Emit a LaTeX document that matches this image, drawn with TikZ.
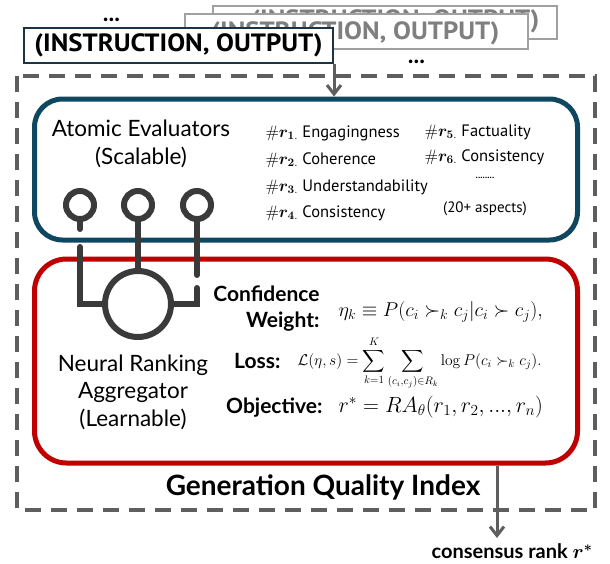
\RequirePackage{fix-cm}
\documentclass[tikz,border=0pt]{standalone}
\usepackage{amsmath,amssymb,bm}
\usepackage[no-math]{fontspec}
\setmainfont{Lato}
\newfontfamily\dinfont{PT Sans}
\newfontfamily\dinwide[FakeStretch=1.07]{PT Sans}
\usetikzlibrary{arrows.meta}
\definecolor{evalblue}{HTML}{0F4761}
\definecolor{aggred}{HTML}{C00000}
\definecolor{dashgray}{HTML}{5E5E5E}
\definecolor{wiregray}{HTML}{3A3A3A}
\definecolor{ghost}{HTML}{A0A0A0}
\definecolor{ghosttext}{HTML}{7F7F7F}
\definecolor{frontbd}{HTML}{1B3342}
\tikzset{
  pairfont/.style={font=\dinwide\bfseries\fontsize{25}{28}\selectfont},
  pairbox/.style={draw, fill=white, line width=2, inner sep=0, minimum height=35, pairfont},
  ghostbox/.style={pairbox, draw=ghost, text=ghosttext},
  dots/.style={font=\bfseries\fontsize{24}{24}\selectfont, anchor=base},
  wire/.style={line width=6, draw=wiregray, line cap=round},
  knob/.style={circle, draw=wiregray, line width=6, minimum size=28, inner sep=0},
  arr/.style={line width=3, draw=dashgray, -{Straight Barb[length=9,width=14,line width=3]}},
  title/.style={font=\fontsize{22.5}{28}\selectfont, align=center},
  item/.style={font=\dinfont\fontsize{16.5}{18}\selectfont, anchor=west},
  lbl/.style={font=\bfseries\fontsize{21}{24}\selectfont},
}
\newcommand{\rr}[1]{$\#\bm{r}_{\bm{#1}.}$}
\begin{document}
\begin{tikzpicture}[x=1pt,y=-1pt]
\useasboundingbox[fill=white] (0,0) rectangle (610,563);

% stacked input pairs
\node[ghostbox, minimum width=344, minimum height=33] (back) at (385,22.5) {};
\node[pairfont, text=ghosttext, anchor=east] (backtext) at (543,21) {(INSTRUCTION, OUTPUT)};
\node[ghostbox, minimum width=343, minimum height=35] (mid) at (356.5,31.5) {};
\node[pairfont, text=ghosttext, anchor=east] (midtext) at (503,33) {(INSTRUCTION, OUTPUT)};
\node[pairbox, draw=frontbd, minimum width=309] (front) at (178.5,45.5) {(INSTRUCTION, OUTPUT)};
\node[dots] (dotsA) at (111.5,21) {...};
\node[dots] (dotsB) at (416.5,63) {...};

% outer dashed frame
\draw[dashgray, line width=4, dash pattern=on 16 off 10] (17,76) rectangle (595,510);

% evaluator and aggregator boxes
\node[draw=evalblue, line width=5, rounded corners=28, minimum width=543, minimum height=141, inner sep=0] (eval) at (306,169.5) {};
\node[draw=aggred, line width=5, rounded corners=32, minimum width=543, minimum height=204, inner sep=0] (agg) at (306,361) {};

\draw[arr] (front.south east) -- (front.south east |- eval.north);

% evaluator texts
\node[title] (evtitle) at (141,144) {Atomic Evaluators\\(Scalable)};
\node[item] (r1) at (262,133) {\rr{1} Engagingness};
\node[item] (r2) at (262,160) {\rr{2} Coherence};
\node[item] (r3) at (262,187) {\rr{3} Understandability};
\node[item] (r4) at (262,213) {\rr{4} Consistency};
\node[item] (r5) at (421,132) {\rr{5} Factuality};
\node[item] (r6) at (421,157) {\rr{6} Consistency};
\node[font=\dinfont\bfseries\fontsize{9}{9}\selectfont] (more) at (485,178) {........};
\node[font=\dinfont\fontsize{15}{17}\selectfont] (aspects) at (485,209) {(20+ aspects)};

% circuit
\node[knob] (k1) at (80,205) {};
\node[knob] (k2) at (138,205) {};
\node[knob] (k3) at (197,205) {};
\node[circle, draw=wiregray, line width=6, minimum size=66, inner sep=0] (ra) at (138,304) {};
\coordinate (s1) at (80,229);
\coordinate (s1b) at (80,247);
\coordinate (s3) at (197,275);
\coordinate (s3b) at (197,288);
\draw[wire] (k1.south) -- (s1);
\draw[wire] (s1b) -- (s1b |- ra.west) -- (ra.west);
\draw[wire] (k2.south) -- (ra.north);
\draw[wire] (k3.south) -- (s3);
\draw[wire] (s3b) -- (s3b |- ra.east) -- (ra.east);

% aggregator texts
\node[title, font=\fontsize{22.5}{27.5}\selectfont] (aggtitle) at (133,392) {Neural Ranking\\Aggregator\\(Learnable)};
\node[lbl, align=right, anchor=east, font=\bfseries\fontsize{21}{26}\selectfont] (cw) at (323,309) {Confidence\\Weight:};
\node[anchor=west, font=\fontsize{20}{22}\selectfont] (cwf) at (335,312) {$\eta_k \equiv P(c_i \succ_k c_j | c_i \succ c_j),$};
\node[lbl, anchor=east] (loss) at (284,361) {Loss:};
\node[anchor=west, font=\fontsize{15.6}{18}\selectfont] (lossf) at (294,363) {$\mathcal{L}(\eta, s) = \displaystyle\sum_{k=1}^{K} \sum_{(c_i,c_j)\in R_k} \log P(c_i \succ_k c_j).$};
\node[lbl, anchor=east] (obj) at (326,408) {Objective:};
\node[anchor=west, font=\fontsize{22}{24}\selectfont] (objf) at (335,407) {$r^* = RA_\theta(r_1, r_2, ..., r_n)$};

% output
\node[font=\bfseries\fontsize{28}{32}\selectfont] (gqi) at (323,487) {Generation Quality Index};
\coordinate (outp) at (497,538);
\draw[arr] (agg.south -| outp) -- (outp);
\node[font=\bfseries\fontsize{20}{24}\selectfont] (rank) at (512,551) {consensus rank $\bm{r^*}$};
\end{tikzpicture}
\end{document}
